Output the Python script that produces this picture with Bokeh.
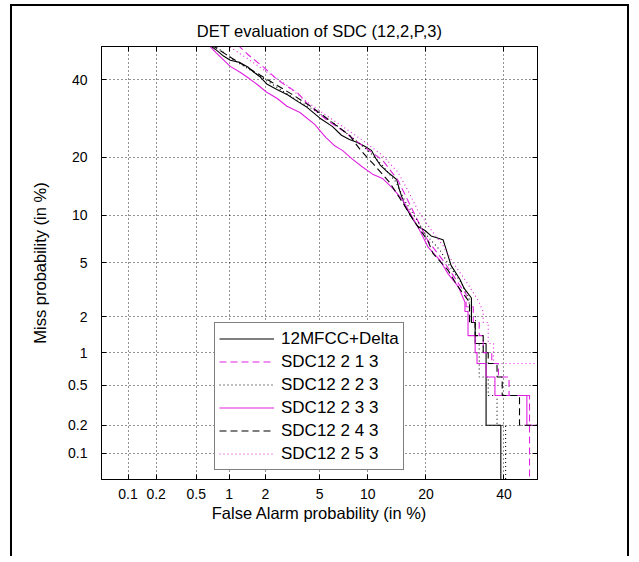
from statistics import NormalDist
from bokeh.plotting import figure
from bokeh.models import (FixedTicker, CustomJSTickFormatter, LinearAxis, Range1d,
                          Legend, LegendItem)
from bokeh.embed import file_html
from bokeh.resources import INLINE

# ---------------- data (percent) ----------------
tick_values = [0.1, 0.2, 0.5, 1, 2, 5, 10, 20, 40]
tick_labels = ["0.1", "0.2", "0.5", "1", "2", "5", "10", "20", "40"]
axis_limits = [0.05, 50]

series_names = ["12MFCC+Delta", "SDC12 2 1 3", "SDC12 2 2 3",
                "SDC12 2 3 3", "SDC12 2 4 3", "SDC12 2 5 3"]

fa_mfcc = [0.66, 0.77, 0.89, 1.02, 1.23, 1.44, 1.61, 1.80, 2.05, 2.46, 2.98, 3.48, 4.10, 5.03,
           6.07, 6.95, 7.79, 8.71, 9.6, 10.5, 11.1, 11.8, 12.9, 14.4, 14.9, 15.8, 17.3, 18.3,
           19.8, 21.1, 23.8, 24.6, 25.7, 27.9, 29.0, 30.9, 30.9, 31.9, 31.9, 34.9, 34.9, 39.1, 39.1]
miss_mfcc = [50.5, 48.9, 47.1, 45.85, 45.2, 43.8, 42.3, 41.0, 38.8, 37.2, 35.6, 33.9, 32.2, 29.3,
             27.2, 25.0, 24.0, 23.3, 22.4, 21.5, 19.8, 18.3, 17.0, 15.6, 13.7, 11.4, 9.5, 8.6,
             8.1, 7.5, 7.1, 6.07, 4.81, 3.85, 3.3, 2.8, 1.8, 1.8, 1.2, 1.2, 0.2, 0.2, 0.01]

fa_s213 = [1.18, 1.45, 1.94, 2.46, 2.93, 3.48, 4.1, 4.8, 5.6, 7.04, 9.3, 12.1, 14.6, 16.4, 18.3,
           20.4, 23.8, 26.2, 28.7, 29.5, 29.5, 31.4, 31.4, 33.0, 33.0, 34.1, 34.1, 36.5, 36.5,
           38.4, 38.4, 41.5, 41.5, 47.6, 47.6]
miss_s213 = [50.5, 47.5, 43.7, 40.2, 38.1, 36.4, 33.3, 31.0, 28.8, 26.2, 22.6, 19.4, 15.5, 12.1,
             9.3, 7.0, 5.2, 4.1, 3.2, 3.0, 2.4, 2.4, 1.8, 1.8, 1.4, 1.4, 1.0, 1.0, 0.8, 0.8,
             0.6, 0.6, 0.4, 0.4, 0.01]

fa_s223 = [0.72, 1.1, 1.61, 2.33, 3.3, 4.63, 6.25, 8.12, 10.0, 12.1, 14.3, 15.8, 18.0, 19.9,
           23.1, 25.7, 28.2, 30.3, 30.3, 32.0, 32.0, 33.0, 33.0, 35.5, 35.5, 38.0, 38.0, 40.5, 40.5]
miss_s223 = [50.5, 45.85, 42.3, 38.4, 34.7, 31.4, 27.9, 24.4, 21.5, 18.3, 15.1, 12.1, 9.5, 7.7,
             6.07, 4.6, 3.65, 2.8, 2.0, 2.0, 1.2, 1.2, 0.6, 0.6, 0.4, 0.4, 0.2, 0.2, 0.01]

fa_s233 = [0.65, 0.77, 1.02, 1.23, 1.41, 1.71, 2.05, 2.46, 2.93, 3.65, 4.63, 5.5, 6.25, 7.04,
           8.12, 9.33, 10.66, 12.1, 13.7, 15.5, 17.3, 18.9, 20.4, 23.1, 25.0, 27.5, 29.2, 29.2,
           30.0, 30.0, 31.9, 31.9, 32.4, 32.4, 34.9, 34.9, 37.4, 37.4, 46.8, 46.8, 60]
miss_s233 = [50.5, 48.0, 44.0, 42.3, 40.9, 38.7, 36.4, 34.7, 32.5, 30.8, 27.7, 24.5, 22.6, 21.5,
             19.6, 18.0, 16.6, 15.8, 14.1, 12.1, 9.7, 7.9, 6.4, 5.2, 4.2, 3.4, 2.6, 2.2, 2.2,
             1.4, 1.4, 1.0, 1.0, 0.8, 0.8, 0.6, 0.6, 0.4, 0.4, 0.2, 0.2]

fa_s243 = [0.69, 1.05, 1.55, 2.25, 3.2, 4.45, 6.07, 7.8, 9.1, 10.7, 13.2, 15.5, 17.7, 20.4,
           21.5, 25.0, 27.2, 30.4, 30.4, 31.9, 31.9, 34.1, 34.1, 35.5, 35.5, 38.0, 38.0, 39.5,
           39.5, 44.6, 44.6, 60]
miss_s243 = [50.5, 46.5, 42.9, 39.3, 35.8, 32.2, 28.2, 25.0, 21.5, 18.7, 15.1, 11.7, 9.1, 7.0,
             5.8, 4.45, 3.47, 2.6, 1.8, 1.8, 1.4, 1.4, 1.0, 1.0, 0.8, 0.8, 0.6, 0.6, 0.4, 0.4,
             0.2, 0.2]

fa_s253 = [0.95, 1.41, 2.05, 2.93, 3.78, 5.2, 7.04, 9.33, 12.1, 14.6, 16.4, 18.3, 20.4, 23.8,
           26.2, 28.7, 30.4, 32.7, 34.1, 34.1, 35.5, 35.5, 37.0, 37.0, 60]
miss_s253 = [50.5, 46.5, 42.3, 38.4, 34.7, 30.8, 27.2, 23.8, 20.4, 17.0, 13.7, 10.7, 8.7, 6.5,
             5.0, 4.0, 3.4, 2.68, 2.2, 1.8, 1.8, 1.2, 1.2, 0.8, 0.8]

# ---------------- helpers ----------------
nd = NormalDist()


def probit(pcts):
    return [nd.inv_cdf(min(max(v / 100.0, 1e-7), 1 - 1e-7)) for v in pcts]


MAG = "#e020e0"
styles = [
    (fa_mfcc, miss_mfcc, "black", "solid"),
    (fa_s213, miss_s213, MAG, "7 4"),
    (fa_s223, miss_s223, "black", "1 3"),
    (fa_s233, miss_s233, MAG, "solid"),
    (fa_s243, miss_s243, "black", "7 4"),
    (fa_s253, miss_s253, MAG, "1 3"),
]

lo, hi = probit(axis_limits)
FONT = "Liberation Sans"

p = figure(width=619, height=552, output_backend="svg", toolbar_location=None,
           x_range=Range1d(lo, hi), y_range=Range1d(lo, hi),
           min_border_left=89, min_border_right=94, min_border_top=40, min_border_bottom=79,
           title="DET evaluation of SDC (12,2,P,3)",
           styles={"margin-left": "10px", "margin-top": "4px",
                   "border-left": "2px solid black", "border-top": "2px solid black",
                   "border-right": "2px solid black"})
p.background_fill_color = "white"
p.border_fill_color = "white"
p.outline_line_color = "black"
p.outline_line_width = 1

p.title.align = "center"
p.title.text_font = FONT
p.title.text_font_size = "16.5px"
p.title.text_font_style = "normal"
p.title.text_color = "black"
p.title.standoff = 14

ticker = FixedTicker(ticks=probit(tick_values))
fmt = CustomJSTickFormatter(args=dict(vals=probit(tick_values), labs=tick_labels), code="""
for (let i = 0; i < vals.length; i++) {
  if (Math.abs(vals[i] - tick) < 1e-6) { return labs[i]; }
}
return "";
""")


def style_axis(ax, show_labels=True):
    ax.ticker = ticker
    ax.formatter = fmt
    ax.major_tick_in = 5
    ax.major_tick_out = 0
    ax.minor_tick_line_color = None
    ax.axis_line_color = "black"
    ax.major_tick_line_color = "black"
    ax.major_label_text_font = FONT
    if show_labels:
        ax.major_label_text_color = "black"
        ax.major_label_text_font_size = "14px"
    else:
        ax.major_label_text_color = None
        ax.major_label_text_font_size = "1px"
        ax.major_label_standoff = 0


style_axis(p.xaxis[0])
style_axis(p.yaxis[0])
p.xaxis[0].major_label_standoff = 9
p.yaxis[0].major_label_standoff = 14

for ax in (p.xaxis[0], p.yaxis[0]):
    ax.axis_label_text_font = FONT
    ax.axis_label_text_font_size = "16.5px"
    ax.axis_label_text_font_style = "normal"
    ax.axis_label_text_color = "black"
p.xaxis[0].axis_label = "False Alarm probability (in %)"
p.xaxis[0].axis_label_standoff = 2
p.yaxis[0].axis_label = "Miss probability (in %)"
p.yaxis[0].axis_label_standoff = 16

top_ax = LinearAxis()
right_ax = LinearAxis()
style_axis(top_ax, False)
style_axis(right_ax, False)
p.add_layout(top_ax, "above")
p.add_layout(right_ax, "right")

for g in (p.xgrid[0], p.ygrid[0]):
    g.ticker = ticker
    g.grid_line_color = "black"
    g.grid_line_alpha = 0.85
    g.grid_line_dash = "1 3"
    g.grid_line_width = 1

items = []
for name, (fa, miss, col, dash) in zip(series_names, styles):
    r = p.line(probit(fa), probit(miss), line_color=col, line_dash=dash, line_width=1.1)
    items.append(LegendItem(label=name, renderers=[r]))

legend = Legend(items=items, location=(113, 9))
legend.border_line_color = "black"
legend.border_line_width = 1
legend.background_fill_color = "white"
legend.background_fill_alpha = 1
legend.label_text_font = FONT
legend.label_text_font_size = "17px"
legend.label_text_color = "black"
legend.glyph_width = 55
legend.glyph_height = 23
legend.label_height = 23
legend.label_standoff = 7
legend.spacing = 0
legend.padding = 4
legend.margin = 0
p.add_layout(legend, "center")

open("out.html", "w").write(file_html(p, INLINE))
